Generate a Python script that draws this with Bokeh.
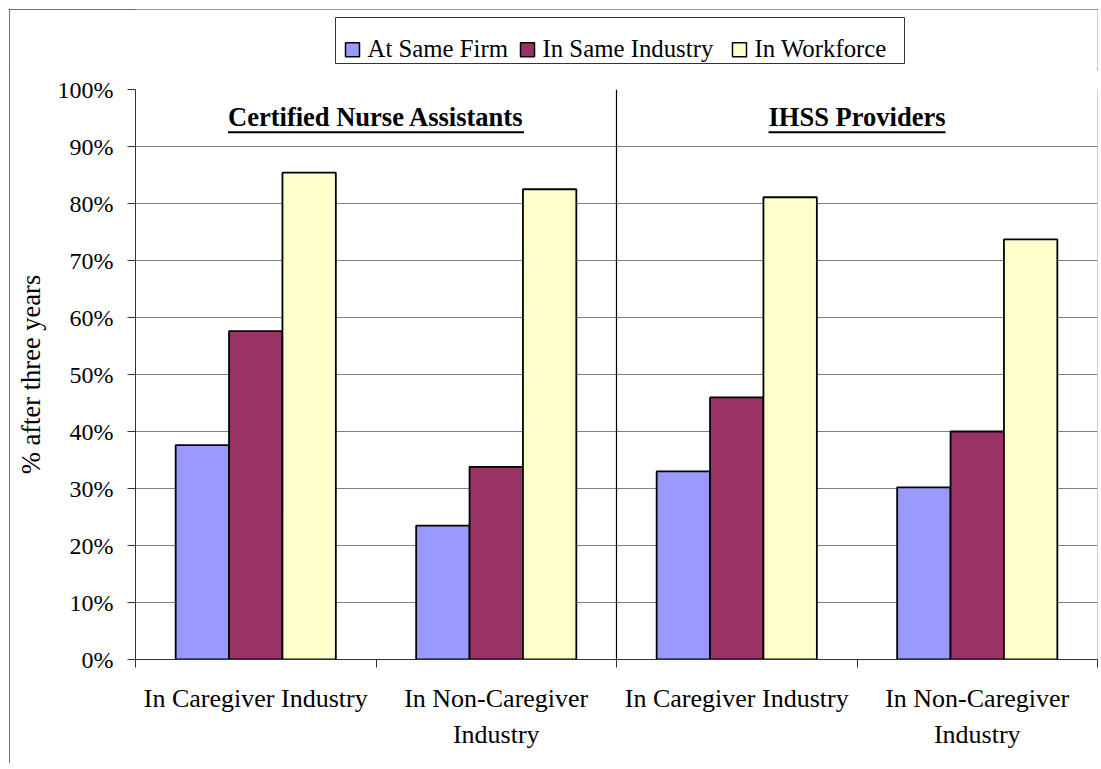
from bokeh.plotting import figure
from bokeh.models import ColumnDataSource, FixedTicker, Span
from bokeh.layouts import column
from bokeh.core.properties import value
from bokeh.embed import file_html
from bokeh.resources import INLINE

# ---------------- data ----------------
categories = ["In Caregiver Industry", "In Non-Caregiver\nIndustry",
              "In Caregiver Industry", "In Non-Caregiver\nIndustry"]
panels = ["Certified Nurse Assistants", "IHSS Providers"]
series = ["At Same Firm", "In Same Industry", "In Workforce"]
same_firm = [37.6, 23.5, 33.0, 30.2]
same_industry = [57.6, 33.8, 46.0, 40.0]
workforce = [85.4, 82.5, 81.1, 73.7]
y_ticks = [0, 10, 20, 30, 40, 50, 60, 70, 80, 90, 100]
y_tick_labels = [f"{t}%" for t in y_ticks]
y_axis_title = "% after three years"

# ---------------- styles ----------------
FONT = "Liberation Serif"
colors = ["#9999FF", "#993366", "#FFFFCC"]
bar_width = 0.222
W = 1089
LEG_H = 60
H = 694
ML, MR, MT, MB = 126, 1, 20, 104
title_underline_px = [296, 177]
title_y = 95.1
underline_y = 92.5
# legend box styling (pixels inside the legend strip)
leg_left, leg_bottom, leg_top = 200, 6, 52
leg_pad, swatch, swatch_gap, item_gap = 10, 14, 8, 13
leg_label_px = [140, 177, 140]
swatch_cy, label_y = 19.8, 21

n = len(categories)
series_values = [same_firm, same_industry, workforce]
FW = W - ML - MR

# ---------------- legend strip ----------------
lg = figure(width=W, height=LEG_H, output_backend="svg", toolbar_location=None,
            x_range=(0, FW), y_range=(0, LEG_H), x_axis_location=None, y_axis_location=None,
            min_border_left=ML, min_border_right=MR, min_border_top=0, min_border_bottom=0)
lg.outline_line_color = None
lg.xgrid.visible = False
lg.ygrid.visible = False
sw_cx, txt_x = [], []
cur = leg_left + leg_pad
for wpx in leg_label_px:
    sw_cx.append(cur + swatch / 2)
    txt_x.append(cur + swatch + swatch_gap)
    cur = cur + swatch + swatch_gap + wpx + item_gap
leg_right = cur - item_gap + leg_pad
lg.quad(left=[leg_left], right=[leg_right], bottom=[leg_bottom], top=[leg_top],
        fill_color="white", line_color="#333333", line_width=1)
lg.rect(x=sw_cx, y=[swatch_cy] * len(series), width=swatch, height=swatch,
        fill_color=colors, line_color="black", line_width=1.5)
lg.text(x=txt_x, y=[label_y] * len(series), text=series,
        text_font=value(FONT), text_font_size="24.8px", text_color="black",
        text_font_style="normal", text_align="left", text_baseline="alphabetic")

# ---------------- main chart ----------------
p = figure(width=W, height=H, output_backend="svg", toolbar_location=None,
           x_range=(0, n), y_range=(0, 100),
           min_border_left=ML, min_border_right=MR, min_border_top=MT, min_border_bottom=MB)
p.outline_line_color = None
p.background_fill_color = "white"
p.border_fill_color = "white"

for j, (name, vals) in enumerate(zip(series, series_values)):
    xs = [i + 0.5 + (j - 1) * bar_width for i in range(n)]
    src = ColumnDataSource(dict(x=xs, top=vals))
    p.vbar(x="x", top="top", width=bar_width, bottom=0, source=src,
           fill_color=colors[j], line_color="black", line_width=1.8)

# divider between panels
p.add_layout(Span(location=n / len(panels), dimension="height",
                  line_color="black", line_width=1.2))

# panel titles
per_panel = n / len(panels)
px_per_unit = FW / n
tx = [k * per_panel + per_panel / 2 for k in range(len(panels))]
p.text(x=tx, y=[title_y] * len(panels), text=panels,
       text_font=value(FONT), text_font_size="26.5px", text_font_style="bold",
       text_align="center", text_baseline="alphabetic", text_color="black")
x0 = [c - w / 2 / px_per_unit for c, w in zip(tx, title_underline_px)]
x1 = [c + w / 2 / px_per_unit for c, w in zip(tx, title_underline_px)]
p.segment(x0=x0, x1=x1, y0=[underline_y] * len(panels), y1=[underline_y] * len(panels),
          line_color="black", line_width=2.2)

# y axis
yax = p.yaxis[0]
yax.ticker = FixedTicker(ticks=y_ticks)
yax.major_label_overrides = {t: l for t, l in zip(y_ticks, y_tick_labels)}
yax.major_label_text_font = FONT
yax.major_label_text_font_size = "24px"
yax.major_label_text_color = "black"
yax.major_tick_out = 8
yax.major_tick_in = 0
yax.minor_tick_out = 0
yax.minor_tick_in = 0
yax.major_label_standoff = 14
yax.axis_line_color = "#333333"
yax.major_tick_line_color = "#333333"
yax.axis_label = y_axis_title
yax.axis_label_text_font = FONT
yax.axis_label_text_font_size = "26.5px"
yax.axis_label_text_font_style = "normal"
yax.axis_label_text_color = "black"
yax.axis_label_standoff = 9

# x axis
xax = p.xaxis[0]
centers = [i + 0.5 for i in range(n)]
xax.ticker = FixedTicker(ticks=centers, minor_ticks=list(range(n + 1)))
xax.major_label_overrides = {c: l for c, l in zip(centers, categories)}
xax.major_label_text_font = FONT
xax.major_label_text_font_size = "26px"
xax.major_label_text_color = "black"
xax.major_label_text_line_height = 1.25
xax.major_tick_out = 0
xax.major_tick_in = 0
xax.minor_tick_out = 8
xax.minor_tick_in = 0
xax.minor_tick_line_color = "#333333"
xax.major_label_standoff = 16
xax.axis_line_color = "#333333"

p.xgrid.visible = False
p.ygrid.ticker = FixedTicker(ticks=y_ticks)
p.ygrid.grid_line_color = "#808080"
p.ygrid.grid_line_width = 1

layout = column(lg, p, spacing=0)
layout.margin = (9, 0, 0, 9)
layout.styles = {"outline": "1px solid #404040", "outline-offset": "-1px"}

open("out.html", "w").write(file_html(layout, INLINE))
